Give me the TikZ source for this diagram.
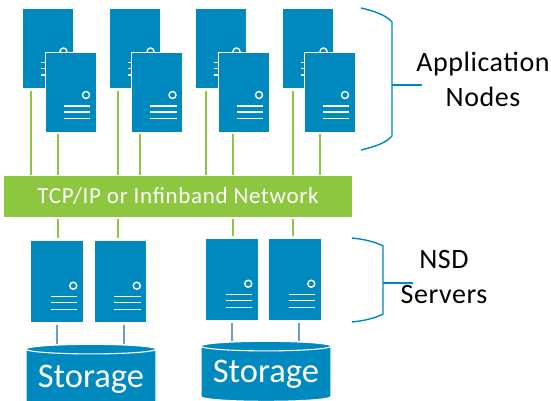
\documentclass[tikz,border=0pt]{standalone}
\usepackage{fontspec}
\setmainfont{Carlito}
\usetikzlibrary{positioning, shapes.geometric}
\definecolor{serverblue}{HTML}{0089BF}
\definecolor{netgreen}{HTML}{8DC63F}
\definecolor{linkblue}{HTML}{6C9BD0}

\begin{document}
\begin{tikzpicture}[x=1pt, y=-1pt,
	server/.style={rectangle, draw=white, line width=0.6pt, fill=serverblue, minimum width=#1, inner sep=0pt,
		path picture={
			\draw[white, line width=1.4pt] ([shift={(-10,-37)}]path picture bounding box.south east) circle (3.5);
			\foreach \rowy in {-26,-20,-13.5}
				\draw[white, line width=1.4pt] ([shift={(-32.5,\rowy)}]path picture bounding box.south east) -- ++(26.5,0);
		}},
	appserver/.style={server=51pt, minimum height=80pt},
	nsdserver/.style={server=52.5pt, minimum height=82.5pt},
	netlink/.style={draw=netgreen, line width=2pt},
	disklink/.style={draw=linkblue, line width=1.4pt},
	brace/.style={draw=serverblue, line width=1.4pt},
	storage/.style={cylinder, shape border rotate=90, aspect=0.09, draw=white, line width=1.1pt, fill=serverblue, text=white, minimum width=130pt, minimum height=#1, inner sep=0pt, font=\fontsize{34.5}{40}\selectfont},
	label/.style={align=center, inner sep=0pt, font=\fontsize{28}{35}\selectfont\addfontfeature{LetterSpace=2}}]
	\useasboundingbox (0,0) rectangle (551,401);

	% Application nodes, back row
	\node[appserver] (appa) at (48,48.5) {};
	\node[appserver] (appb) at (135,48.5) {};
	\node[appserver] (appc) at (221,48.5) {};
	\node[appserver] (appd) at (308,48.5) {};

	% Application nodes, front row
	\node[appserver] (appe) at (70.5,92) {};
	\node[appserver] (appf) at (157,92) {};
	\node[appserver] (appg) at (243.5,92) {};
	\node[appserver] (apph) at (329.5,92) {};

	% Network
	\node[rectangle, fill=netgreen, text=white, minimum width=348pt, minimum height=41pt, inner sep=0pt, font=\fontsize{23}{26}\selectfont\addfontfeature{LetterSpace=3}] (net) at (178,196.5) {TCP/IP or Infinband Network};

	% NSD servers
	\node[nsdserver] (nsda) at (57,281.5) {};
	\node[nsdserver] (nsdb) at (120.5,281.5) {};
	\node[nsdserver] (nsdc) at (232,279.5) {};
	\node[nsdserver] (nsdd) at (295,279.5) {};

	% Storage
	\node[storage=66pt] (diska) at (91,380) {\raisebox{6.5pt}{Storage}};
	\node[storage=60pt] (diskb) at (266,374) {\raisebox{-5pt}{Storage}};

	% Connections to the network
	\foreach \srv/\off in {appa/-17.5, appb/-17, appc/-15.5, appd/-15, appe/-12.5, appf/-17, appg/-10.5, apph/-9.5}
		\draw[netlink, shorten <=2pt, shorten >=1pt] ([xshift=\off pt]\srv.south) -- ([xshift=\off pt]\srv.south |- net.north);
	\foreach \srv/\off in {nsda/1, nsdb/-2.5, nsdc/1, nsdd/-2}
		\draw[netlink, shorten <=2pt, shorten >=2pt] ([xshift=\off pt]\srv.north |- net.south) -- ([xshift=\off pt]\srv.north);

	% Connections to the storage
	\draw[disklink, shorten <=2pt] (nsda.south) -- (nsda.south |- diska.north);
	\draw[disklink, shorten <=2pt] ([xshift=3.5pt]nsdb.south) -- ([xshift=3.5pt]nsdb.south |- diska.north);
	\draw[disklink, shorten <=2pt] (nsdc.south) -- (nsdc.south |- diskb.north);
	\draw[disklink, shorten <=2pt] ([xshift=4pt]nsdd.south) -- ([xshift=4pt]nsdd.south |- diskb.north);

	% Labels
	\node[label] (applabel) at (483,79) {Application\\Nodes};
	\node[label] (nsdlabel) at (444,277) {NSD\\Servers};

	% Braces
	\coordinate (appstub) at (392,85);
	\coordinate (append) at (422,85);
	\coordinate (nsdstub) at (383,283);
	\coordinate (nsdend) at (413,283);
	\draw[brace] (361,8) .. controls (374,11) and (386,15) .. (392,22) -- (392,136) .. controls (386,143) and (374,147) .. (361,150);
	\draw[brace] (352,238) .. controls (363,239) and (376,242) .. (383,246) -- (383,314) .. controls (376,318) and (363,321) .. (352,322);
	\draw[brace] (appstub) -- (append);
	\draw[brace] (nsdstub) -- (nsdend);
\end{tikzpicture}
\end{document}
